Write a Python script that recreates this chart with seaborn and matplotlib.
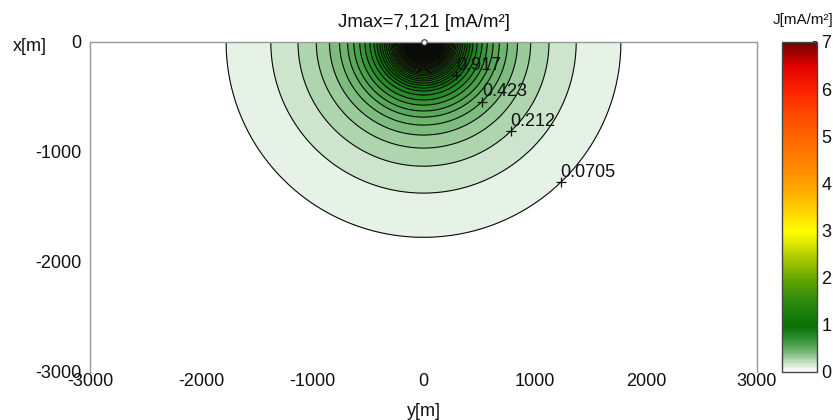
import numpy as np
import matplotlib
matplotlib.use("Agg")
import matplotlib.pyplot as plt
from matplotlib.colors import LinearSegmentedColormap, Normalize
from matplotlib.cm import ScalarMappable
import seaborn as sns

# --- datos ---
# perfil radial de densidad de corriente (distancia al punto de inyeccion)
radius_m = [0, 25, 50, 75, 100, 125, 150, 175, 200, 250, 300, 350, 400, 445,
            482, 527, 573, 627, 682, 755, 845, 964, 1127, 1373, 1775, 2200, 3000, 4300]
current_density = [7.121, 6.77, 5.94, 4.99, 4.15, 3.47, 2.94, 2.52, 2.18, 1.70, 1.37, 1.14, 0.965, 0.846,
                   0.776, 0.705, 0.635, 0.564, 0.494, 0.423, 0.353, 0.282, 0.212, 0.141, 0.0705, 0.035, 0.01, 0.0]
jmax = 7.121
n_levels = 101
jmax_pos = (0, 0)

label_levels = [0.0705, 0.212, 0.423, 0.917]
label_angle_deg = 44

x_ticks = [-3000, -2000, -1000, 0, 1000, 2000, 3000]
y_ticks = [-3000, -2000, -1000, 0]
cbar_ticks = [0, 1, 2, 3, 4, 5, 6, 7]

cmap_pos = [0.0, 0.15, 0.4, 0.7, 0.95, 1.5, 2.0, 2.5, 2.8, 3.0, 3.5, 4.0, 4.5, 5.0, 5.5, 6.0, 6.5, 7.0]
cmap_cols = ["#ffffff", "#d2e8d2", "#78b878", "#2e902e", "#087008", "#2f8a10", "#6aa800",
             "#b8d200", "#e8f000", "#ffff00", "#ffc800", "#ffa000", "#ff8000", "#ff6400",
             "#ff4600", "#ff2000", "#e00000", "#700000"]

# --- estilo ---
sns.set_theme(style="white")
plt.rcParams["font.family"] = ["Liberation Sans", "DejaVu Sans"]
plt.rcParams["axes.unicode_minus"] = False
fs = 13

cmap = LinearSegmentedColormap.from_list(
    "jcmap", list(zip(np.array(cmap_pos) / 7.0, cmap_cols)))
norm = Normalize(vmin=0, vmax=7)

# --- campo en la malla ---
ygrid = np.linspace(-3000, 3000, 1201)
xgrid = np.linspace(-3000, 0, 601)
YY, XX = np.meshgrid(ygrid, xgrid)
field = np.interp(np.hypot(YY, XX), radius_m, current_density)
levels = np.linspace(0, jmax, n_levels + 1)

fig = plt.figure(figsize=(8.33, 4.2), dpi=100)
ax = fig.add_axes([90 / 833, 1 - 372 / 420, 667 / 833, 330 / 420])
cax = fig.add_axes([782 / 833, 1 - 372 / 420, 35 / 833, 330 / 420])

ax.contourf(YY, XX, field, levels=levels[1:], cmap=cmap, norm=norm)
ax.contour(YY, XX, field, levels=levels[1:], colors="#0a0a0a", linewidths=0.8)

# etiquetas de contorno estilo MATLAB
ang = np.deg2rad(label_angle_deg)
for lv in label_levels:
    r = np.interp(lv, current_density[::-1], radius_m[::-1])
    px, py = r * np.sin(ang), -r * np.cos(ang)
    ax.plot(px, py, marker="+", color="#111111", ms=7, mew=0.9)
    ax.annotate(f"{lv:g}", (px, py), xytext=(0, 1), textcoords="offset points",
                ha="left", va="bottom", fontsize=fs, color="#111111")

ax.plot(*jmax_pos, marker="o", ms=4, mfc="white", mec="#333333", mew=0.8,
        clip_on=False, zorder=5)

ax.set_xlim(-3000, 3000)
ax.set_ylim(-3000, 0)
ax.set_xticks(x_ticks)
ax.set_yticks(y_ticks)
ax.tick_params(axis="both", length=0, labelsize=fs, colors="#111111")
ax.tick_params(axis="x", pad=1)
ax.tick_params(axis="y", pad=6)
for s in ["top", "left", "right"]:
    ax.spines[s].set_color("#999999")
    ax.spines[s].set_linewidth(1)
ax.spines["bottom"].set_visible(False)

ax.set_xlabel("y[m]", fontsize=fs, va="center", color="#111111")
ax.xaxis.set_label_coords(0.5, -0.12)
ax.set_ylabel("x[m]", fontsize=fs, rotation=0, ha="center", va="center", color="#111111")
ax.yaxis.set_label_coords(-0.09, 0.985)
ax.text(0.5, 1.058, "Jmax=7,121 [mA/m²]", transform=ax.transAxes,
        ha="center", va="center", fontsize=13.4, color="#111111")

cb = fig.colorbar(ScalarMappable(norm=norm, cmap=cmap), cax=cax, ticks=cbar_ticks)
cb.outline.set_edgecolor("#444444")
cb.outline.set_linewidth(1)
cax.tick_params(length=3, direction="in", labelsize=fs, pad=3, colors="#111111")
cax.text(0.6, 1.068, "J[mA/m²]", transform=cax.transAxes, ha="center", va="center",
         fontsize=11, color="#111111")

fig.savefig("out.png", dpi=100)
